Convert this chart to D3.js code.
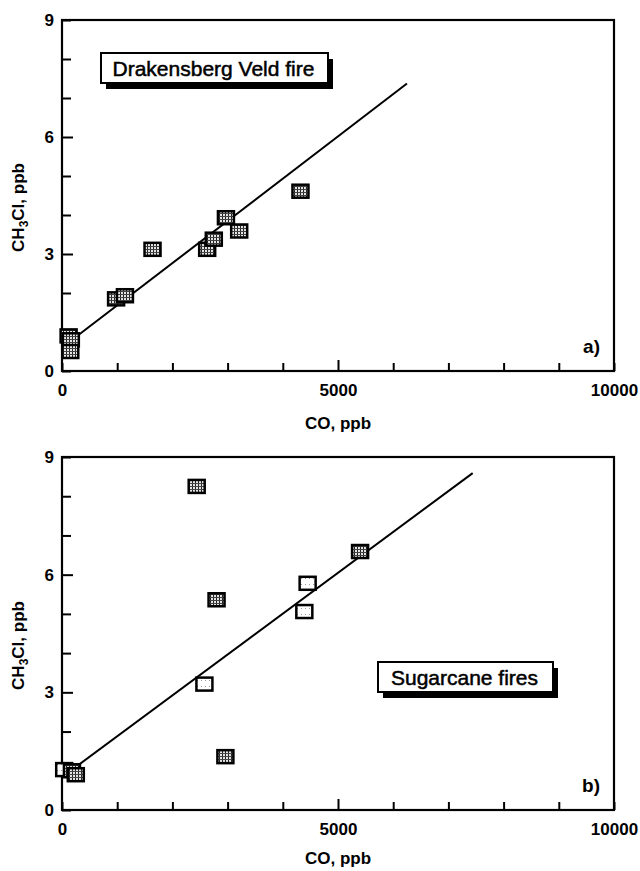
<!DOCTYPE html>
<html>
<head>
<meta charset="utf-8">
<script src="https://cdn.jsdelivr.net/npm/d3@7"></script>
<style>
  body { margin: 0; background: #fff; }
  svg { display: block; font-family: "Liberation Sans", Arial, Helvetica, sans-serif; }
</style>
</head>
<body>
<div id="chart"></div>
<script>
// Panel a) Drakensberg Veld fire
const veldCO = [120, 160, 150, 980, 1140, 1640, 2630, 2750, 2970, 3210, 4320];
const veldCH3Cl = [0.9, 0.8, 0.5, 1.85, 1.93, 3.12, 3.12, 3.38, 3.93, 3.59, 4.61];
const veldFitCO = [250, 6250];
const veldFitCH3Cl = [0.87, 7.37];

// Panel b) Sugarcane fires (filled and open symbols)
const caneFilledCO = [2440, 2800, 2960, 5400, 180, 250];
const caneFilledCH3Cl = [8.25, 5.36, 1.36, 6.59, 1.0, 0.9];
const caneOpenCO = [40, 2580, 4390, 4450];
const caneOpenCH3Cl = [1.03, 3.21, 5.06, 5.78];
const caneFitCO = [300, 7440];
const caneFitCH3Cl = [1.15, 8.59];

// Axes
const xTicks = d3.range(0, 10001, 1000);
const xLabels = [0, 5000, 10000];
const yTicks = d3.range(0, 10, 1);
const yLabels = [0, 3, 6, 9];

const width = 640, height = 871;
const svg = d3.select('#chart').append('svg')
  .attr('width', width)
  .attr('height', height);

// marker fill: dark grid with light cells
const defs = svg.append('defs');
const pat = defs.append('pattern')
  .attr('id', 'grid')
  .attr('patternUnits', 'userSpaceOnUse')
  .attr('width', 3).attr('height', 3);
pat.append('rect').attr('width', 3).attr('height', 3).attr('fill', '#e4e4e4');
pat.append('rect').attr('width', 1).attr('height', 3).attr('fill', '#222');
pat.append('rect').attr('width', 3).attr('height', 1).attr('fill', '#444');

const patOpen = defs.append('pattern')
  .attr('id', 'open')
  .attr('patternUnits', 'userSpaceOnUse')
  .attr('width', 4).attr('height', 6);
patOpen.append('rect').attr('width', 4).attr('height', 6).attr('fill', '#fff');
patOpen.append('rect').attr('x', 1).attr('y', 2).attr('width', 1).attr('height', 1).attr('fill', '#999');

function drawPanel(cfg) {
  const x = d3.scaleLinear().domain([0, 10000]).range([62, 614]);
  const y = d3.scaleLinear().domain([0, 9]).range(cfg.yRange);
  const g = svg.append('g');
  const [bottom, top] = cfg.yRange;

  // x ticks (inward)
  const xAxis = g.append('g')
    .attr('transform', `translate(0,${bottom})`)
    .call(d3.axisBottom(x).tickValues(xTicks)
      .tickSize(-8).tickPadding(13)
      .tickFormat(d => xLabels.includes(d) ? d : ''));
  xAxis.select('.domain').remove();
  xAxis.selectAll('line').attr('stroke', '#000').attr('stroke-width', 2)
    .attr('y2', d => d === 5000 ? -11 : -8);
  xAxis.selectAll('text')
    .attr('fill', '#000')
    .style('font-size', '17px')
    .style('font-weight', 'bold');

  // y ticks (inward)
  const yAxis = g.append('g')
    .attr('transform', `translate(62,0)`)
    .call(d3.axisLeft(y).tickValues(yTicks)
      .tickSize(-9).tickPadding(8)
      .tickFormat(d => yLabels.includes(d) ? d : ''));
  yAxis.select('.domain').remove();
  yAxis.selectAll('line').attr('stroke', '#000').attr('stroke-width', 2)
    .attr('x2', d => (d === 3 || d === 6) ? 11 : 9);
  yAxis.selectAll('text')
    .attr('fill', '#000')
    .style('font-size', '17px')
    .style('font-weight', 'bold');

  // frame
  g.append('rect')
    .attr('x', x(0)).attr('y', top)
    .attr('width', x(10000) - x(0)).attr('height', bottom - top)
    .attr('fill', 'none').attr('stroke', '#000').attr('stroke-width', 2.2);

  // axis titles
  g.append('text')
    .attr('x', x(5000)).attr('y', cfg.xTitleY)
    .attr('text-anchor', 'middle')
    .style('font-size', '17px').style('font-weight', 'bold')
    .text('CO, ppb');

  const yt = g.append('text')
    .attr('transform', `translate(24,${(top + bottom) / 2 + 12}) rotate(-90)`)
    .attr('text-anchor', 'middle')
    .style('font-size', '17px').style('font-weight', 'bold');
  yt.append('tspan').text('CH');
  yt.append('tspan').attr('dy', 4).style('font-size', '12px').text('3');
  yt.append('tspan').attr('dy', -4).text('Cl, ppb');

  // regression line
  const line = d3.line().x(d => x(d[0])).y(d => y(d[1]));
  g.append('path')
    .datum(d3.zip(cfg.fitX, cfg.fitY))
    .attr('d', line)
    .attr('fill', 'none').attr('stroke', '#000').attr('stroke-width', 2);

  // symbols
  cfg.series.forEach(s => {
    g.append('g').selectAll('rect')
      .data(d3.zip(s.x, s.y))
      .join('rect')
        .attr('x', d => x(d[0]) - 8)
        .attr('y', d => y(d[1]) - 6.5)
        .attr('width', 16).attr('height', 13)
        .attr('fill', s.fill)
        .attr('stroke', '#000').attr('stroke-width', 2.5);
  });

  // label box with drop shadow
  const b = cfg.box;
  g.append('rect')
    .attr('x', b.x + 5).attr('y', b.y + 6)
    .attr('width', b.w).attr('height', b.h)
    .attr('fill', '#000');
  g.append('rect')
    .attr('x', b.x).attr('y', b.y)
    .attr('width', b.w).attr('height', b.h)
    .attr('fill', '#fff').attr('stroke', '#000').attr('stroke-width', 2);
  g.append('text')
    .attr('x', b.x + b.w / 2 - 1).attr('y', b.y + b.h / 2 + 7.5)
    .attr('text-anchor', 'middle')
    .attr('stroke', '#000').attr('stroke-width', 0.5)
    .style('font-size', '21px')
    .text(b.text);

  // panel letter
  g.append('text')
    .attr('x', 600).attr('y', cfg.letterY)
    .attr('text-anchor', 'end')
    .style('font-size', '19px').style('font-weight', 'bold')
    .text(cfg.letter);
}

drawPanel({
  yRange: [371, 20],
  xTitleY: 429,
  fitX: veldFitCO, fitY: veldFitCH3Cl,
  series: [{ x: veldCO, y: veldCH3Cl, fill: 'url(#grid)' }],
  box: { x: 101, y: 53, w: 227, h: 30, text: 'Drakensberg Veld fire' },
  letter: 'a)', letterY: 353
});

drawPanel({
  yRange: [810, 457],
  xTitleY: 864,
  fitX: caneFitCO, fitY: caneFitCH3Cl,
  series: [
    { x: caneOpenCO, y: caneOpenCH3Cl, fill: 'url(#open)' },
    { x: caneFilledCO, y: caneFilledCH3Cl, fill: 'url(#grid)' }
  ],
  box: { x: 378, y: 662, w: 175, h: 30, text: 'Sugarcane fires' },
  letter: 'b)', letterY: 792
});
</script>
</body>
</html>
